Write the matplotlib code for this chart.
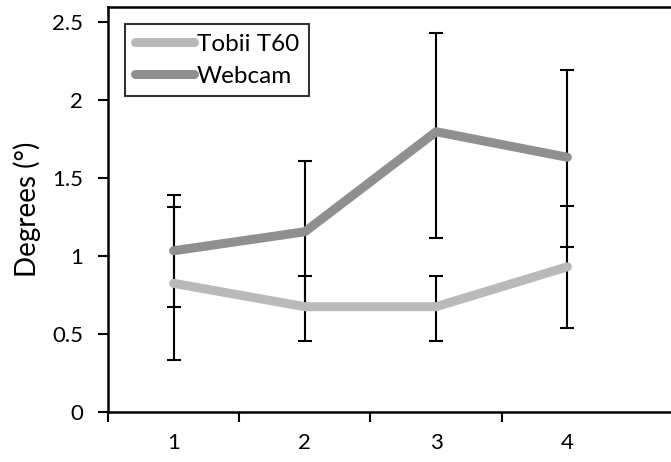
import matplotlib
matplotlib.use("Agg")
import matplotlib.pyplot as plt
from matplotlib.ticker import FixedLocator, NullFormatter

plt.rcParams["font.family"] = ["Lato", "DejaVu Sans"]

categories = [1, 2, 3, 4]
tobii = [0.824, 0.674, 0.674, 0.93]
tobii_err_low = [0.49, 0.218, 0.218, 0.395]
tobii_err_high = [0.49, 0.20, 0.20, 0.39]
webcam = [1.033, 1.155, 1.797, 1.633]
webcam_err_low = [0.363, 0.48, 0.68, 0.578]
webcam_err_high = [0.358, 0.456, 0.636, 0.56]

W, H = 671, 462
fig = plt.figure(figsize=(W / 100, H / 100), dpi=100)
left, right, top, bottom = 108, 680, 7, 411.7
ax = fig.add_axes([left / W, 1 - bottom / H, (right - left) / W, (bottom - top) / H])

TOBII_C = "#b9b9b9"
WEB_C = "#8f8f8f"

ax.errorbar(categories, tobii, yerr=[tobii_err_low, tobii_err_high], fmt="none",
            ecolor="black", elinewidth=1.5, capsize=5.3, capthick=1.5, zorder=2)
ax.errorbar(categories, webcam, yerr=[webcam_err_low, webcam_err_high], fmt="none",
            ecolor="black", elinewidth=1.5, capsize=5.3, capthick=1.5, zorder=2)
ax.plot(categories, tobii, color=TOBII_C, lw=6.5, solid_capstyle="round",
        solid_joinstyle="round", label="Tobii T60", zorder=3)
ax.plot(categories, webcam, color=WEB_C, lw=6.5, solid_capstyle="round",
        solid_joinstyle="round", label="Webcam", zorder=3)

# x scale: 131.25 px per category, category boundaries at n+0.5
ax.set_xlim(0.5, 0.5 + (right - left) / 131.25)
ax.set_ylim(0, (bottom - top) / 155.8)
ax.set_yticks([0, 0.5, 1, 1.5, 2, 2.5])
ax.set_yticklabels(["0", "0.5", "1", "1.5", "2", "2.5"])
ax.set_xticks(categories)
ax.set_xticklabels([str(c) for c in categories])
ax.xaxis.set_minor_locator(FixedLocator([0.5, 1.5, 2.5, 3.5]))
ax.xaxis.set_minor_formatter(NullFormatter())
ax.tick_params(axis="x", which="major", length=0, pad=15, labelsize=16)
ax.tick_params(axis="x", which="minor", length=7, width=1.5, direction="out")
ax.tick_params(axis="y", length=7, width=1.5, direction="out", pad=11, labelsize=16)

for s in ax.spines.values():
    s.set_linewidth(1.8)

ax.set_ylabel("Degrees (°)", fontsize=20, labelpad=8)

leg = ax.legend(loc="upper left", bbox_to_anchor=(17 / (right - left), 1 - 17 / (bottom - top)),
                frameon=True, fancybox=False, fontsize=17.5, handlelength=2.45,
                handletextpad=0.1, borderpad=0.4, labelspacing=0.45, borderaxespad=0)
leg.get_frame().set_edgecolor("black")
leg.get_frame().set_linewidth(1.5)

fig.savefig("out.png", dpi=100)
